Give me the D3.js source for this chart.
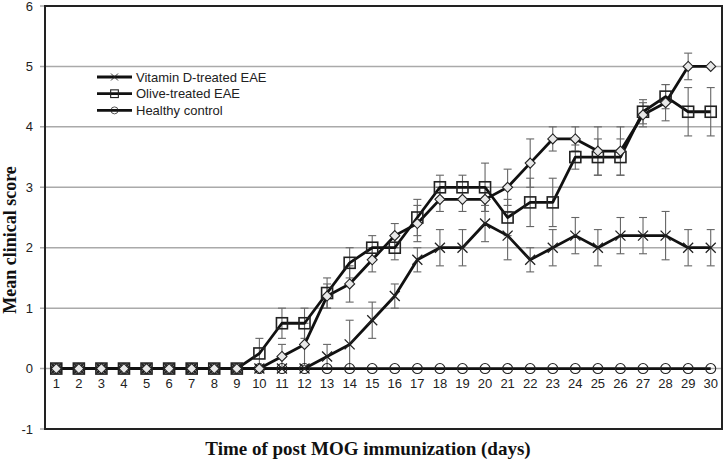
<!DOCTYPE html>
<html><head><meta charset="utf-8">
<script src="https://cdn.jsdelivr.net/npm/d3@7"></script>
<style>body{margin:0;background:#fff}</style>
</head><body>
<script>
const days = d3.range(1, 31);
const yTicks = [-1,0,1,2,3,4,5,6];
const vitD = [0,0,0,0,0,0,0,0,0,0,0,0,0.2,0.4,0.8,1.2,1.8,2.0,2.0,2.4,2.2,1.8,2.0,2.2,2.0,2.2,2.2,2.2,2.0,2.0];
const vitDErr = [0,0,0,0,0,0,0,0,0,0,0,0,0.2,0.4,0.3,0.2,0.2,0.3,0.3,0.3,0.4,0.2,0.3,0.3,0.3,0.3,0.3,0.4,0.3,0.3];
const olive = [0,0,0,0,0,0,0,0,0,0.25,0.75,0.75,1.25,1.75,2.0,2.0,2.5,3.0,3.0,3.0,2.5,2.75,2.75,3.5,3.5,3.5,4.25,4.5,4.25,4.25];
const oliveErr = [0,0,0,0,0,0,0,0,0,0.25,0.25,0.25,0.25,0.25,0.2,0.2,0.3,0.2,0.2,0.4,0.3,0.4,0.4,0.2,0.3,0.3,0.2,0.2,0.4,0.4];
const untreated = [0,0,0,0,0,0,0,0,0,0,0.2,0.4,1.2,1.4,1.8,2.2,2.4,2.8,2.8,2.8,3.0,3.4,3.8,3.8,3.6,3.6,4.2,4.4,5.0,5.0];
const untreatedErr = [0,0,0,0,0,0,0,0,0,0,0.2,0.35,0.2,0.3,0.2,0.2,0.3,0.2,0.2,0.2,0.3,0.4,0.2,0.2,0.4,0.4,0.2,0.3,0.22,0];
const healthy = days.map(() => 0);
const legendNames = ["Vitamin D-treated EAE", "Olive-treated EAE", "Healthy control"];

const W = 724, H = 463;
const L = 45, R = 722, T = 6, B = 429;
const svg = d3.select("body").append("svg").attr("width", W).attr("height", H);
const x = d3.scaleLinear().domain([0.5, 30.5]).range([L, R]);
const y = d3.scaleLinear().domain([-1, 6]).range([B, T]);

// gridlines
svg.append("g").selectAll("line").data(yTicks).join("line")
  .attr("x1", L - 5).attr("x2", R).attr("y1", d => y(d)).attr("y2", d => y(d))
  .attr("stroke", "#aaa").attr("stroke-width", 1.5);
// y labels
svg.append("g").selectAll("text").data(yTicks).join("text")
  .attr("x", 33).attr("y", d => y(d) + 4.5).attr("text-anchor", "end")
  .attr("font-family", "Liberation Sans, Arial").attr("font-size", 13).attr("fill", "#222")
  .text(d => d);
// frame
svg.append("rect").attr("x", L).attr("y", T).attr("width", R - L).attr("height", B - T)
  .attr("fill", "none").attr("stroke", "#222").attr("stroke-width", 2);
// x labels
svg.append("g").selectAll("text").data(days).join("text")
  .attr("x", d => x(d)).attr("y", y(0) + 19).attr("text-anchor", "middle")
  .attr("font-family", "Liberation Sans, Arial").attr("font-size", 13).attr("fill", "#222")
  .text(d => d);

const series = [
  {vals: healthy, err: null, m: "circle"},
  {vals: vitD, err: vitDErr, m: "x"},
  {vals: olive, err: oliveErr, m: "square"},
  {vals: untreated, err: untreatedErr, m: "diamond"}
];
// error bars
series.forEach(s => {
  if (!s.err) return;
  const g = svg.append("g").attr("stroke", "#666").attr("stroke-width", 1.1);
  days.forEach((d, i) => {
    const e = s.err[i]; if (!e) return;
    const cx = x(d), y1 = y(s.vals[i] + e), y2 = y(s.vals[i] - e);
    g.append("line").attr("x1", cx).attr("x2", cx).attr("y1", y1).attr("y2", y2);
    g.append("line").attr("x1", cx - 4).attr("x2", cx + 4).attr("y1", y1).attr("y2", y1);
    g.append("line").attr("x1", cx - 4).attr("x2", cx + 4).attr("y1", y2).attr("y2", y2);
  });
});
function marker(g, m, cx, cy) {
  if (m === "circle") g.append("circle").attr("cx", cx).attr("cy", cy).attr("r", 5).attr("fill", "none").attr("stroke", "#222").attr("stroke-width", 1.1);
  else if (m === "square") g.append("rect").attr("x", cx - 5.5).attr("y", cy - 5.5).attr("width", 11).attr("height", 11).attr("fill", "none").attr("stroke", "#222").attr("stroke-width", 1.6);
  else if (m === "diamond") g.append("path").attr("d", `M${cx},${cy-5}L${cx+5},${cy}L${cx},${cy+5}L${cx-5},${cy}Z`).attr("fill", "#e8e8e8").attr("stroke", "#222").attr("stroke-width", 1.1);
  else if (m === "x") g.append("path").attr("d", `M${cx-5},${cy-5}L${cx+5},${cy+5}M${cx-5},${cy+5}L${cx+5},${cy-5}`).attr("stroke", "#222").attr("stroke-width", 1.3);
}
const line = d3.line().x((v, i) => x(days[i])).y(v => y(v));
series.forEach(s => {
  svg.append("path").attr("d", line(s.vals)).attr("fill", "none").attr("stroke", "#111").attr("stroke-width", 2.8).attr("stroke-linejoin", "round");
});
series.forEach(s => {
  const g = svg.append("g");
  s.vals.forEach((v, i) => marker(g, s.m, x(days[i]), y(v)));
});

// legend
const lg = svg.append("g");
const lm = ["x", "square", "circle"];
legendNames.forEach((n, i) => {
  const ly = 77 + i * 16.7;
  lg.append("line").attr("x1", 97).attr("x2", 132).attr("y1", ly).attr("y2", ly).attr("stroke", "#111").attr("stroke-width", 2.8);
  const gg = lg.append("g").attr("transform", `translate(${114.5},${ly}) scale(0.7) translate(${-114.5},${-ly})`);
  marker(gg, lm[i], 114.5, ly);
  lg.append("text").attr("x", 136).attr("y", ly + 4.6).attr("font-family", "Liberation Sans, Arial").attr("font-size", 13).attr("fill", "#222").text(n);
});

// axis titles
svg.append("text").attr("x", 368).attr("y", 455).attr("text-anchor", "middle")
  .attr("font-family", "Liberation Serif, Times New Roman").attr("font-weight", "bold").attr("font-size", 19).attr("fill", "#111")
  .text("Time of post MOG immunization (days)");
svg.append("text").attr("transform", `translate(16,240) rotate(-90)`).attr("text-anchor", "middle")
  .attr("font-family", "Liberation Serif, Times New Roman").attr("font-weight", "bold").attr("font-size", 18).attr("fill", "#111")
  .text("Mean clinical score");
</script>
</body></html>
